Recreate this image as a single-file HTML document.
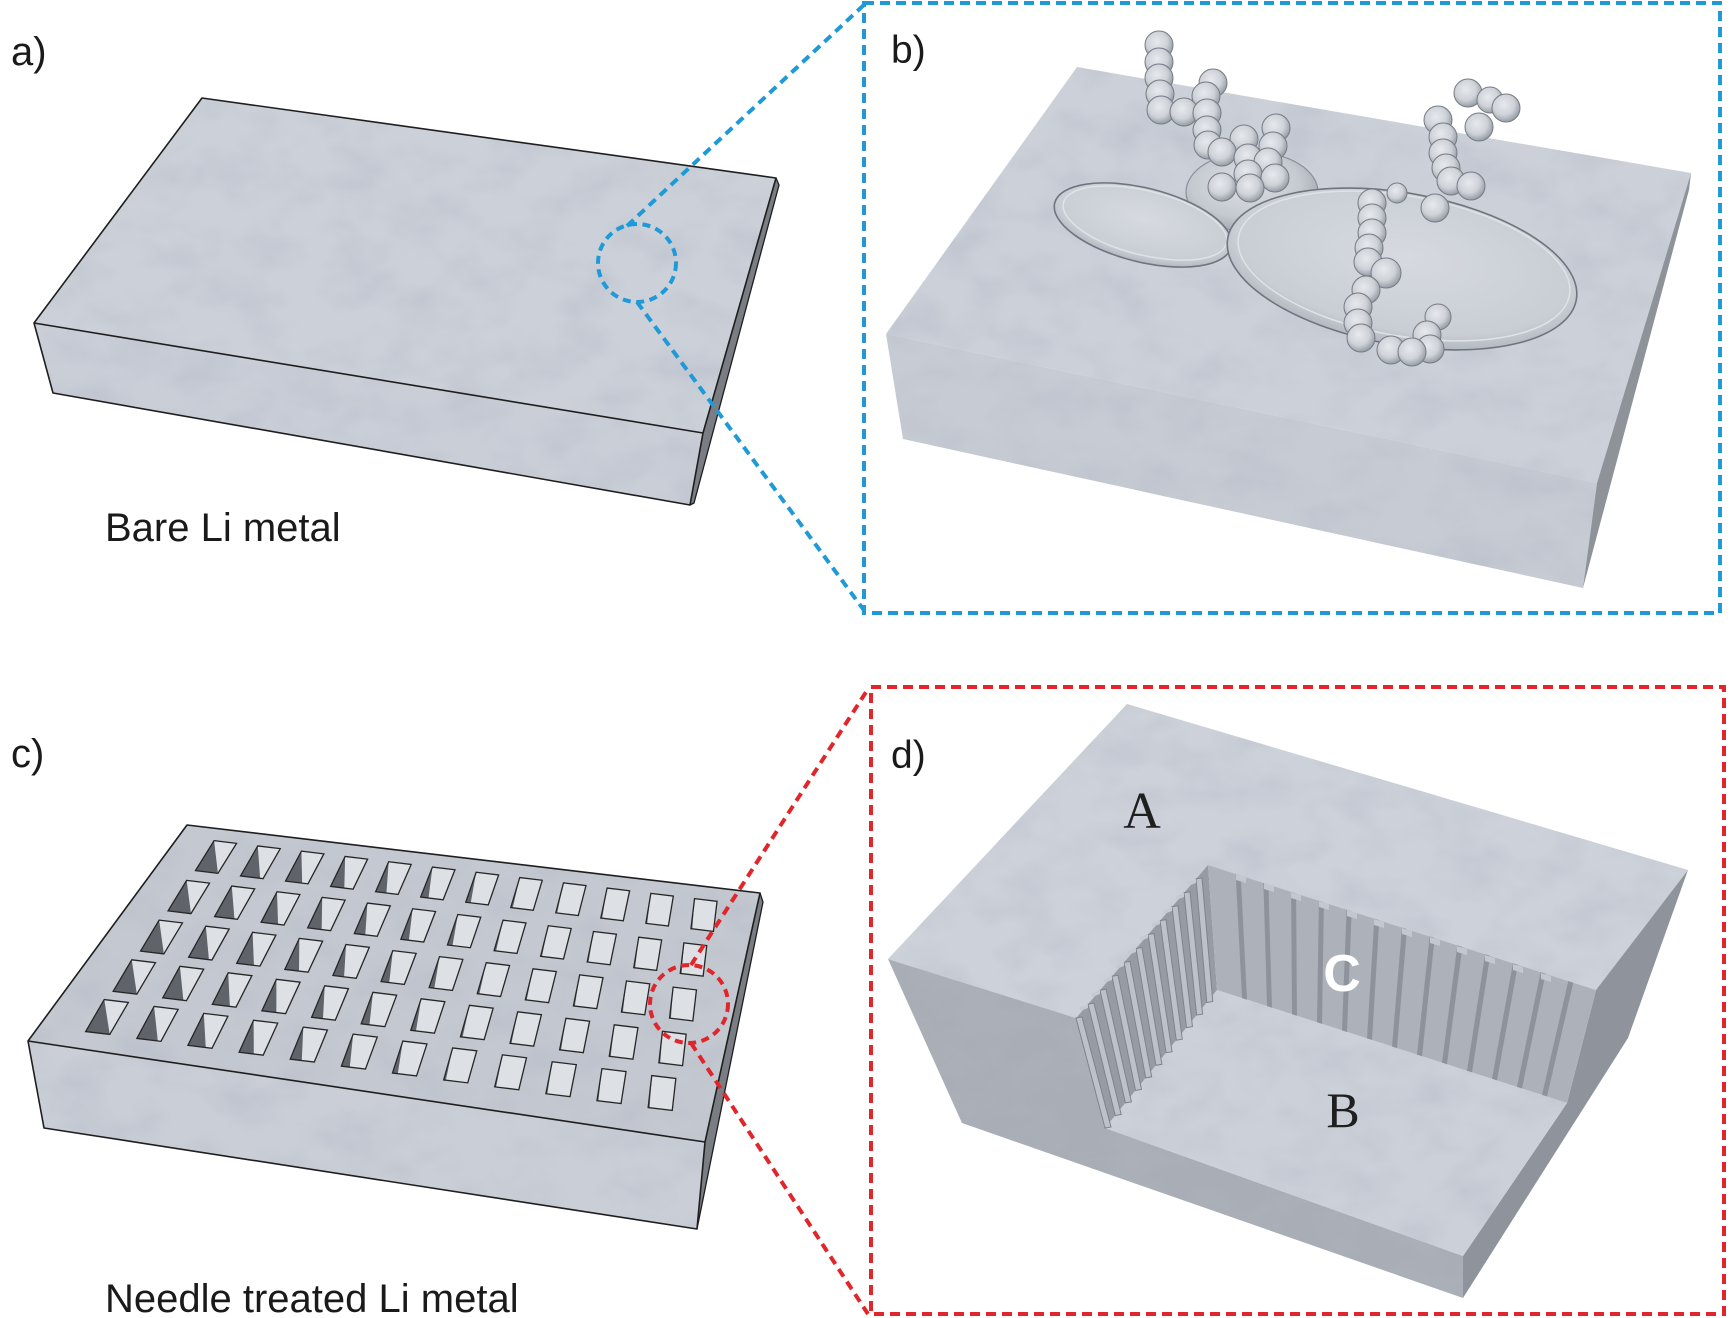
<!DOCTYPE html>
<html><head><meta charset="utf-8"><style>
html,body{margin:0;padding:0;background:#fff;overflow:hidden}
svg{display:block}
</style></head><body>
<svg width="1734" height="1318" viewBox="0 0 1734 1318" xmlns="http://www.w3.org/2000/svg">
<defs>
<filter id="mott" x="0" y="0" width="1" height="1">
<feTurbulence type="fractalNoise" baseFrequency="0.018 0.026" numOctaves="3" seed="7" result="n"/>
<feColorMatrix in="n" type="matrix" values="0 0 0 0 0.45  0 0 0 0 0.48  0 0 0 0 0.56  -0.9 0 0 0 0.55" result="d"/>
<feComposite in="d" in2="SourceGraphic" operator="in"/>
</filter>
<radialGradient id="sph" cx="0.42" cy="0.38" r="0.62">
<stop offset="0" stop-color="#e6e9ed"/><stop offset="0.6" stop-color="#cfd3d9"/><stop offset="1" stop-color="#989ea6"/>
</radialGradient>
<radialGradient id="pan" cx="0.5" cy="0.42" r="0.6">
<stop offset="0" stop-color="#d6dae0"/><stop offset="0.8" stop-color="#c9ced5"/><stop offset="1" stop-color="#aeb3bb"/>
</radialGradient>
<radialGradient id="dome" cx="0.45" cy="0.4" r="0.6">
<stop offset="0" stop-color="#dde0e5"/><stop offset="0.7" stop-color="#c4c9d0"/><stop offset="1" stop-color="#a3a9b1"/>
</radialGradient>
<rect id="hb" x="-0.5" y="-0.5" width="1" height="1" fill="#dde0e5"/>
<rect id="ho" x="-0.5" y="-0.5" width="1" height="1" fill="none" stroke="#262626" stroke-width="1.3" vector-effect="non-scaling-stroke"/>
<g id="h0"><use href="#hb"/><polygon points="-0.5,-0.5 -0.5,0.5 0.5,0.5" fill="#5f636a"/><use href="#ho"/></g>
<g id="h1"><use href="#hb"/><polygon points="-0.5,-0.5 -0.5,0.5 0.37,0.5" fill="#5f636a"/><use href="#ho"/></g>
<g id="h2"><use href="#hb"/><polygon points="-0.5,-0.5 -0.5,0.5 0.24,0.5" fill="#5f636a"/><use href="#ho"/></g>
<g id="h3"><use href="#hb"/><polygon points="-0.5,-0.5 -0.5,0.5 0.11,0.5" fill="#5f636a"/><use href="#ho"/></g>
<g id="h4"><use href="#hb"/><polygon points="-0.5,-0.5 -0.5,0.5 -0.02,0.5" fill="#5f636a"/><use href="#ho"/></g>
<g id="h5"><use href="#hb"/><polygon points="-0.5,-0.5 -0.5,0.5 -0.15,0.5" fill="#5f636a"/><use href="#ho"/></g>
<g id="h6"><use href="#hb"/><polygon points="-0.5,-0.5 -0.5,0.5 -0.28,0.5" fill="#5f636a"/><use href="#ho"/></g>
<g id="h7"><use href="#hb"/><polygon points="-0.5,-0.5 -0.5,0.5 -0.41,0.5" fill="#5f636a"/><use href="#ho"/></g>
<g id="h8"><use href="#hb"/><polygon points="-0.5,-0.5 -0.5,0.5 -0.44,0.5" fill="#5f636a"/><use href="#ho"/></g>
</defs>

<rect width="1734" height="1318" fill="#fff"/>

<!-- Panel a -->
<polygon points="202,98 776,178 703,433 34,323" fill="#ccd1d9"/>
<polygon points="34,323 703,433 690,505 53,393" fill="#c9ced7"/>
<polygon points="202,98 776,178 703,433 34,323" fill="#000" filter="url(#mott)"/>
<polygon points="34,323 703,433 690,505 53,393" fill="#000" filter="url(#mott)"/>
<polygon points="776,178 779,185 694,503 690,505 703,433" fill="#7a7e84"/>
<polyline points="34,323 202,98 776,178 703,433 34,323 53,393 690,505 703,433" fill="none" stroke="#1e1e1e" stroke-width="1.6" stroke-linejoin="round"/>
<polyline points="776,178 779,185 694,503 690,505" fill="none" stroke="#1e1e1e" stroke-width="1.3"/>

<g fill="none" stroke="#1f9ad6" stroke-width="4">
<circle cx="637" cy="263" r="39" stroke-dasharray="8 5.5"/>
<line x1="627" y1="226" x2="866" y2="3" stroke-dasharray="9 6"/>
<line x1="637" y1="302" x2="866" y2="613" stroke-dasharray="9 6"/>
<rect x="864" y="3" width="856" height="610" stroke-dasharray="10 6"/>
</g>

<text x="11" y="65" font-family="Liberation Sans, Arial, sans-serif" font-size="40" fill="#1a1a1a">a)</text>
<text x="105" y="541" font-family="Liberation Sans, Arial, sans-serif" font-size="40" fill="#1a1a1a">Bare Li metal</text>

<!-- Panel b -->
<polygon points="1077,67 1691,173 1597,483 886,334" fill="#ccd1d9"/>
<polygon points="886,334 1597,483 1583,588 903,439" fill="#c7ccd4"/>
<polygon points="1077,67 1691,173 1597,483 886,334" fill="#000" filter="url(#mott)"/>
<polygon points="886,334 1597,483 1583,588 903,439" fill="#000" filter="url(#mott)"/>
<polygon points="1691,173 1689,190 1583,588 1597,483" fill="#8e939a"/>

<ellipse cx="1252" cy="192" rx="66" ry="40" fill="url(#dome)" stroke="#8a9098" stroke-width="1.2"/>
<ellipse cx="1143" cy="225" rx="91" ry="37" transform="rotate(14 1143 225)" fill="url(#pan)" stroke="#6f757d" stroke-width="1.6"/>
<ellipse cx="1145" cy="223" rx="84" ry="32" transform="rotate(14 1145 223)" fill="none" stroke="#dfe2e7" stroke-width="1.5"/>
<ellipse cx="1402" cy="269" rx="177" ry="76" transform="rotate(10 1402 269)" fill="url(#pan)" stroke="#6f757d" stroke-width="1.6"/>
<ellipse cx="1404" cy="266" rx="168" ry="70" transform="rotate(10 1404 266)" fill="none" stroke="#dfe2e7" stroke-width="1.5"/>

<g fill="url(#sph)" stroke="#767c84" stroke-width="1">
<circle cx="1159" cy="45" r="14"/><circle cx="1213" cy="83" r="14"/><circle cx="1468" cy="93" r="14"/><circle cx="1490" cy="100" r="13"/>
<circle cx="1159" cy="62" r="14"/><circle cx="1206" cy="96" r="14"/><circle cx="1506" cy="108" r="14"/>
<circle cx="1159" cy="78" r="14"/><circle cx="1160" cy="94" r="14"/><circle cx="1438" cy="120" r="14"/>
<circle cx="1161" cy="110" r="14"/><circle cx="1184" cy="112" r="14"/><circle cx="1207" cy="113" r="14"/>
<circle cx="1479" cy="127" r="14"/><circle cx="1276" cy="128" r="14"/><circle cx="1207" cy="130" r="14"/>
<circle cx="1443" cy="137" r="14"/><circle cx="1244" cy="139" r="14"/><circle cx="1208" cy="145" r="14"/>
<circle cx="1273" cy="146" r="14"/><circle cx="1222" cy="152" r="14"/><circle cx="1443" cy="153" r="14"/>
<circle cx="1248" cy="158" r="14"/><circle cx="1268" cy="162" r="14"/><circle cx="1446" cy="168" r="14"/>
<circle cx="1248" cy="174" r="14"/><circle cx="1275" cy="178" r="14"/><circle cx="1451" cy="181" r="14"/>
<circle cx="1471" cy="186" r="14"/><circle cx="1222" cy="187" r="14"/><circle cx="1250" cy="188" r="14"/>
<circle cx="1397" cy="193" r="10"/><circle cx="1372" cy="203" r="14"/><circle cx="1435" cy="208" r="14"/>
<circle cx="1372" cy="218" r="14"/><circle cx="1372" cy="233" r="14"/><circle cx="1369" cy="248" r="14"/>
<circle cx="1368" cy="262" r="14"/><circle cx="1386" cy="273" r="15"/><circle cx="1366" cy="290" r="14"/>
<circle cx="1358" cy="307" r="14"/><circle cx="1438" cy="317" r="13"/><circle cx="1358" cy="323" r="14"/>
<circle cx="1427" cy="335" r="14"/><circle cx="1361" cy="338" r="14"/><circle cx="1430" cy="349" r="14"/>
<circle cx="1391" cy="350" r="14"/><circle cx="1412" cy="352" r="14"/>
</g>

<text x="891" y="63" font-family="Liberation Sans, Arial, sans-serif" font-size="39" fill="#1a1a1a">b)</text>

<!-- Panel c -->
<polygon points="187,825 760,893 705,1142 28,1041" fill="#c4c9d1"/>
<polygon points="28,1041 705,1142 697,1229 44,1128" fill="#cacfd7"/>
<polygon points="187,825 760,893 705,1142 28,1041" fill="#000" filter="url(#mott)"/>
<polygon points="28,1041 705,1142 697,1229 44,1128" fill="#000" filter="url(#mott)"/>
<polygon points="760,893 763,902 697,1229 705,1142" fill="#7a7e84"/>

<g>
<use href="#h0" transform="matrix(22.5 2.7 -18.6 30 216 857)"/>
<use href="#h1" transform="matrix(22.5 2.7 -17.2 30 260.4 862.3)"/>
<use href="#h2" transform="matrix(22.5 2.7 -15.9 30 304.7 867.5)"/>
<use href="#h3" transform="matrix(22.5 2.7 -14.5 30 349.1 872.8)"/>
<use href="#h4" transform="matrix(22.5 2.7 -13.1 30 393.4 878.1)"/>
<use href="#h5" transform="matrix(22.5 2.7 -11.8 30 437.8 883.4)"/>
<use href="#h6" transform="matrix(22.5 2.7 -10.4 30 482.2 888.6)"/>
<use href="#h7" transform="matrix(22.5 2.7 -9.0 30 526.5 893.9)"/>
<use href="#h8" transform="matrix(22.5 2.7 -7.7 30 570.9 899.2)"/>
<use href="#h8" transform="matrix(22.5 2.7 -6.3 30 615.2 904.4)"/>
<use href="#h8" transform="matrix(22.5 2.7 -5.0 30 659.6 909.7)"/>
<use href="#h8" transform="matrix(22.5 2.7 -3.6 30 704 915)"/>

<use href="#h0" transform="matrix(22.9 2.75 -18.6 30.5 188.8 897)"/>
<use href="#h1" transform="matrix(22.9 2.75 -17.2 30.5 234.6 902.7)"/>
<use href="#h2" transform="matrix(22.9 2.75 -15.9 30.5 280.5 908.4)"/>
<use href="#h3" transform="matrix(22.9 2.75 -14.5 30.5 326.4 914)"/>
<use href="#h4" transform="matrix(22.9 2.75 -13.1 30.5 372.3 919.7)"/>
<use href="#h5" transform="matrix(22.9 2.75 -11.8 30.5 418.2 925.4)"/>
<use href="#h6" transform="matrix(22.9 2.75 -10.4 30.5 464.1 931.1)"/>
<use href="#h7" transform="matrix(22.9 2.75 -9.0 30.5 510 936.8)"/>
<use href="#h8" transform="matrix(22.9 2.75 -7.7 30.5 555.9 942.4)"/>
<use href="#h8" transform="matrix(22.9 2.75 -6.3 30.5 601.8 948.1)"/>
<use href="#h8" transform="matrix(22.9 2.75 -5.0 30.5 647.7 953.8)"/>
<use href="#h8" transform="matrix(22.9 2.75 -3.6 30.5 693.5 959.5)"/>

<use href="#h0" transform="matrix(23.3 2.8 -18.6 31 161.5 937)"/>
<use href="#h1" transform="matrix(23.3 2.8 -17.2 31 208.9 943.1)"/>
<use href="#h2" transform="matrix(23.3 2.8 -15.9 31 256.3 949.2)"/>
<use href="#h3" transform="matrix(23.3 2.8 -14.5 31 303.7 955.3)"/>
<use href="#h4" transform="matrix(23.3 2.8 -13.1 31 351.1 961.4)"/>
<use href="#h5" transform="matrix(23.3 2.8 -11.8 31 398.6 967.5)"/>
<use href="#h6" transform="matrix(23.3 2.8 -10.4 31 446 973.5)"/>
<use href="#h7" transform="matrix(23.3 2.8 -9.0 31 493.4 979.6)"/>
<use href="#h8" transform="matrix(23.3 2.8 -7.7 31 540.8 985.7)"/>
<use href="#h8" transform="matrix(23.3 2.8 -6.3 31 588.2 991.8)"/>
<use href="#h8" transform="matrix(23.3 2.8 -5.0 31 635.6 997.9)"/>
<use href="#h8" transform="matrix(23.3 2.8 -3.6 31 683 1004)"/>

<use href="#h0" transform="matrix(23.7 2.85 -18.6 31.5 134.3 977)"/>
<use href="#h1" transform="matrix(23.7 2.85 -17.2 31.5 183.2 983.5)"/>
<use href="#h2" transform="matrix(23.7 2.85 -15.9 31.5 232.1 990)"/>
<use href="#h3" transform="matrix(23.7 2.85 -14.5 31.5 281 996.5)"/>
<use href="#h4" transform="matrix(23.7 2.85 -13.1 31.5 330 1003)"/>
<use href="#h5" transform="matrix(23.7 2.85 -11.8 31.5 378.9 1009.5)"/>
<use href="#h6" transform="matrix(23.7 2.85 -10.4 31.5 427.8 1016)"/>
<use href="#h7" transform="matrix(23.7 2.85 -9.0 31.5 476.8 1022.5)"/>
<use href="#h8" transform="matrix(23.7 2.85 -7.7 31.5 525.7 1029)"/>
<use href="#h8" transform="matrix(23.7 2.85 -6.3 31.5 574.6 1035.5)"/>
<use href="#h8" transform="matrix(23.7 2.85 -5.0 31.5 623.6 1042)"/>
<use href="#h8" transform="matrix(23.7 2.85 -3.6 31.5 672.5 1048.5)"/>

<use href="#h0" transform="matrix(24.1 2.9 -18.6 32 107 1017)"/>
<use href="#h1" transform="matrix(24.1 2.9 -17.2 32 157.5 1023.9)"/>
<use href="#h2" transform="matrix(24.1 2.9 -15.9 32 207.9 1030.8)"/>
<use href="#h3" transform="matrix(24.1 2.9 -14.5 32 258.4 1037.7)"/>
<use href="#h4" transform="matrix(24.1 2.9 -13.1 32 308.8 1044.6)"/>
<use href="#h5" transform="matrix(24.1 2.9 -11.8 32 359.3 1051.6)"/>
<use href="#h6" transform="matrix(24.1 2.9 -10.4 32 409.7 1058.5)"/>
<use href="#h7" transform="matrix(24.1 2.9 -9.0 32 460.2 1065.4)"/>
<use href="#h8" transform="matrix(24.1 2.9 -7.7 32 510.6 1072.3)"/>
<use href="#h8" transform="matrix(24.1 2.9 -6.3 32 561.1 1079.2)"/>
<use href="#h8" transform="matrix(24.1 2.9 -5.0 32 611.5 1086.1)"/>
<use href="#h8" transform="matrix(24.1 2.9 -3.6 32 662 1093)"/>
</g>

<polyline points="28,1041 187,825 760,893 705,1142 28,1041 44,1128 697,1229 705,1142" fill="none" stroke="#1e1e1e" stroke-width="1.6" stroke-linejoin="round"/>
<polyline points="760,893 763,902 697,1229" fill="none" stroke="#1e1e1e" stroke-width="1.3"/>

<g fill="none" stroke="#e0262b" stroke-width="4">
<circle cx="689" cy="1004" r="39" stroke-dasharray="8 5.5"/>
<line x1="691" y1="965" x2="868" y2="689" stroke-dasharray="9 6"/>
<line x1="691" y1="1043" x2="868" y2="1314" stroke-dasharray="9 6"/>
<rect x="871" y="687" width="853" height="627" stroke-dasharray="10 6"/>
</g>

<text x="11" y="767" font-family="Liberation Sans, Arial, sans-serif" font-size="40" fill="#1a1a1a">c)</text>
<text x="105" y="1312" font-family="Liberation Sans, Arial, sans-serif" font-size="40" fill="#1a1a1a">Needle treated Li metal</text>

<!-- Panel d -->
<polygon points="1127,704 1688,870 1596,990 1208,865 1076,1018 888,959" fill="#cdd2da"/>
<polygon points="1127,704 1688,870 1596,990 1208,865 1076,1018 888,959" fill="#000" filter="url(#mott)"/>
<polygon points="888,959 1076,1018 1105,1128 1463,1256 1463,1298 962,1123" fill="#a9aeb6"/>
<polygon points="888,959 1076,1018 1105,1128 1463,1256 1463,1298 962,1123" fill="#000" filter="url(#mott)" opacity="0.6"/>
<polygon points="1688,870 1628,1038 1463,1298 1463,1256 1567,1103 1596,990" fill="#8f949c"/>
<polygon points="1217,990 1567,1103 1463,1256 1105,1128" fill="#ccd1d9"/>
<polygon points="1217,990 1567,1103 1463,1256 1105,1128" fill="#000" filter="url(#mott)"/>
<polygon points="1208,865 1596,990 1567,1103 1217,990" fill="#adb2ba"/>
<g fill="#8e939b">
<polygon points="1235.7,873.9 1240.7,875.5 1247,999.7 1242,998.1"/>
<polygon points="1263.4,882.9 1268.4,884.5 1272,1007.7 1267,1006.1"/>
<polygon points="1291.1,891.8 1296.1,893.4 1297,1015.8 1292,1014.2"/>
<polygon points="1318.9,900.7 1323.9,902.3 1322,1023.9 1317,1022.3"/>
<polygon points="1346.6,909.6 1351.6,911.2 1347,1032 1342,1030.4"/>
<polygon points="1374.3,918.6 1379.3,920.2 1372,1040 1367,1038.4"/>
<polygon points="1402,927.5 1407,929.1 1397,1048.1 1392,1046.5"/>
<polygon points="1429.7,936.4 1434.7,938 1422,1056.2 1417,1054.6"/>
<polygon points="1457.4,945.4 1462.4,947 1447,1064.2 1442,1062.6"/>
<polygon points="1485.1,954.3 1490.1,955.9 1472,1072.3 1467,1070.7"/>
<polygon points="1512.9,963.2 1517.9,964.8 1497,1080.4 1492,1078.8"/>
<polygon points="1540.6,972.1 1545.6,973.7 1522,1088.5 1517,1086.9"/>
<polygon points="1568.3,981.1 1573.3,982.7 1547,1096.5 1542,1094.9"/>
</g>
<g fill="#c3c8d0">
<polygon points="1236,874 1246,877 1246,883 1236,880"/>
<polygon points="1264,883 1274,886 1274,892 1264,889"/>
<polygon points="1291,892 1301,895 1301,901 1291,898"/>
<polygon points="1319,901 1329,904 1329,910 1319,907"/>
<polygon points="1347,910 1357,913 1357,919 1347,916"/>
<polygon points="1374,919 1384,922 1384,928 1374,925"/>
<polygon points="1402,928 1412,931 1412,937 1402,934"/>
<polygon points="1430,937 1440,940 1440,946 1430,943"/>
<polygon points="1457,946 1467,949 1467,955 1457,952"/>
<polygon points="1485,955 1495,958 1495,964 1485,961"/>
<polygon points="1513,964 1523,967 1523,973 1513,970"/>
<polygon points="1541,973 1551,976 1551,982 1541,979"/>
</g>
<polygon points="1076,1018 1208,865 1217,990 1105,1128" fill="#979ca4"/>
<g fill="#bdc2ca" stroke="#7f848c" stroke-width="1">
<polygon points="1076,1018 1082,1017 1111,1127 1105,1128"/>
<polygon points="1088,1004.1 1094,1003.1 1121.2,1114.5 1115.2,1115.5"/>
<polygon points="1100,990.2 1106,989.2 1131.4,1101.9 1125.4,1102.9"/>
<polygon points="1112,976.3 1118,975.3 1141.5,1089.4 1135.5,1090.4"/>
<polygon points="1124,962.4 1130,961.4 1151.7,1076.8 1145.7,1077.8"/>
<polygon points="1136,948.5 1142,947.5 1161.9,1064.3 1155.9,1065.3"/>
<polygon points="1148,934.5 1154,933.5 1172.1,1051.7 1166.1,1052.7"/>
<polygon points="1160,920.6 1166,919.6 1182.3,1039.2 1176.3,1040.2"/>
<polygon points="1172,906.7 1178,905.7 1192.5,1026.6 1186.5,1027.6"/>
<polygon points="1184,892.8 1190,891.8 1202.6,1014.1 1196.6,1015.1"/>
<polygon points="1196,878.9 1202,877.9 1212.8,1001.5 1206.8,1002.5"/>
</g>
<g fill="#c6cbd3">
<polygon points="1088,1004 1080,1007 1080,1011 1088,1008"/>
<polygon points="1100,990 1092,993 1092,997 1100,994"/>
<polygon points="1112,976 1104,979 1104,983 1112,980"/>
<polygon points="1124,962 1116,965 1116,969 1124,966"/>
<polygon points="1136,948 1128,951 1128,955 1136,952"/>
<polygon points="1148,934 1140,937 1140,941 1148,938"/>
<polygon points="1160,920 1152,923 1152,927 1160,924"/>
<polygon points="1172,907 1164,910 1164,914 1172,911"/>
<polygon points="1184,893 1176,896 1176,900 1184,897"/>
<polygon points="1196,879 1188,882 1188,886 1196,883"/>
</g>

<text x="1142" y="828" text-anchor="middle" font-family="Liberation Serif, 'Times New Roman', serif" font-size="52" fill="#1f1f1f">A</text>
<text x="1343" y="1127" text-anchor="middle" font-family="Liberation Serif, 'Times New Roman', serif" font-size="50" fill="#1f1f1f">B</text>
<text x="1342" y="991" text-anchor="middle" font-family="Liberation Sans, Arial, sans-serif" font-weight="bold" font-size="52" fill="#ffffff">C</text>
<text x="891" y="768" font-family="Liberation Sans, Arial, sans-serif" font-size="39" fill="#1a1a1a">d)</text>
</svg>
</body></html>
